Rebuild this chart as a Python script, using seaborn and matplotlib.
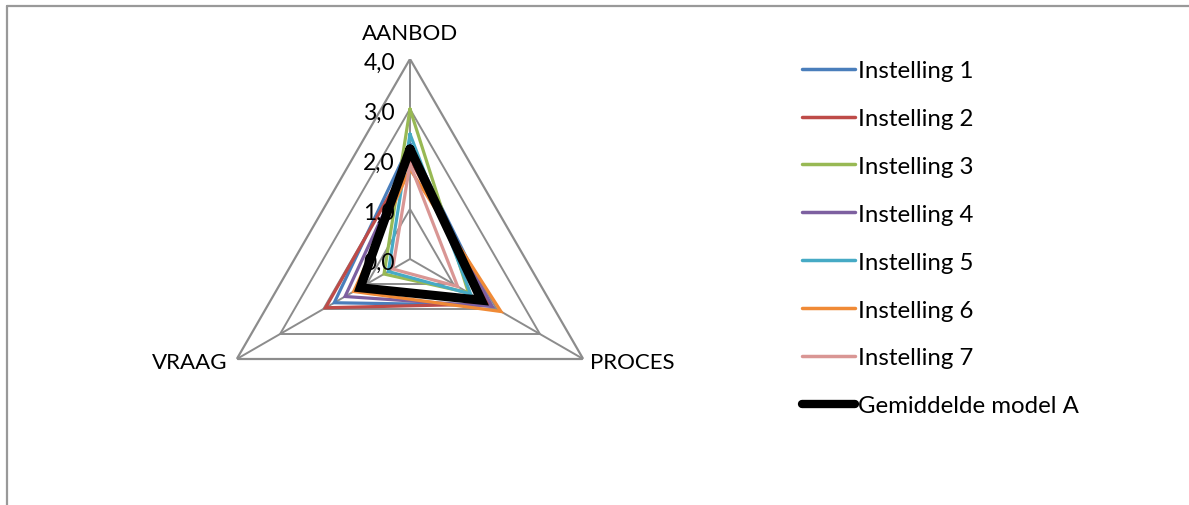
import numpy as np
import pandas as pd
import seaborn as sns
import matplotlib.pyplot as plt
from matplotlib.lines import Line2D

# data
axes_labels = ["AANBOD", "PROCES", "VRAAG"]
series = ["Instelling 1", "Instelling 2", "Instelling 3", "Instelling 4",
          "Instelling 5", "Instelling 6", "Instelling 7", "Gemiddelde model A"]
inst1 = [2.3, 1.85, 1.75]
inst2 = [2.0, 1.8, 1.95]
inst3 = [3.0, 1.35, 0.6]
inst4 = [2.05, 1.9, 1.5]
inst5 = [2.5, 1.4, 0.5]
inst6 = [1.8, 2.1, 1.3]
inst7 = [1.9, 1.1, 0.4]
gemiddelde = [2.2, 1.65, 1.15]
ticks = [0, 1, 2, 3, 4]
tick_labels = ["0,0", "1,0", "2,0", "3,0", "4,0"]

colors = ["#4A7EBB", "#BE4B48", "#98B954", "#7D60A0", "#46AAC5", "#F08A36", "#D99694", "#000000"]
widths = [2.3, 2.3, 2.3, 2.3, 2.3, 2.3, 2.3, 6.5]

sns.set_style("white")
plt.rcParams['font.family'] = ['Lato', 'DejaVu Sans']
plt.rcParams['text.color'] = 'black'

angles = np.linspace(0, 2 * np.pi, len(axes_labels), endpoint=False)
closed = np.append(angles, angles[0])

rows = []
for name, vals in zip(series, [inst1, inst2, inst3, inst4, inst5, inst6, inst7, gemiddelde]):
    v = list(vals) + [vals[0]]
    for t, r in zip(closed, v):
        rows.append({"series": name, "theta": t, "val": r})
df = pd.DataFrame(rows)

fig = plt.figure(figsize=(11.89, 5.06), dpi=100)
ax = fig.add_axes([210 / 1189, 46 / 506, 400 / 1189, 400 / 506], projection="polar")
ax.set_theta_offset(np.pi / 2)
ax.set_theta_direction(-1)

# polygon grid like Excel
for t in ticks[1:]:
    ax.plot(closed, [t] * len(closed), color="#8C8C8C", lw=1.4 if t < 4 else 1.6, zorder=1)
for a in angles:
    ax.plot([a, a], [0, 4], color="#8C8C8C", lw=1.4, zorder=1)

sns.lineplot(data=df, x="theta", y="val", hue="series", size="series",
             sizes=dict(zip(series, widths)), palette=dict(zip(series, colors)),
             sort=False, estimator=None, units="series", legend=False, ax=ax, zorder=3)
for ln in ax.lines[-len(series):]:
    ln.set_solid_joinstyle("miter")

ax.set_ylim(0, 4)
ax.grid(False)
ax.spines["polar"].set_visible(False)
ax.set_xticks([])
ax.set_yticks([])
ax.set_xlabel("")
ax.set_ylabel("")

# tick labels along the top spoke
for t, lab in zip(ticks, tick_labels):
    ax.annotate(lab, xy=(0, t), xytext=(-15, -3), textcoords="offset pixels",
                ha="right", va="center", fontsize=16.5, color="black")

ax.text(0, 4.53, axes_labels[0], ha="center", va="center", fontsize=16, color="black")
ax.annotate(axes_labels[1], xy=(angles[1], 4), xytext=(7, -3), textcoords="offset pixels",
            ha="left", va="center", fontsize=16, color="black")
ax.annotate(axes_labels[2], xy=(angles[2], 4), xytext=(-9, -3), textcoords="offset pixels",
            ha="right", va="center", fontsize=16, color="black")

handles = [Line2D([], [], color=c, lw=(2.5 if w < 5 else 6.0), solid_capstyle="round")
           for c, w in zip(colors, widths)]
fig.legend(handles, series, loc="upper left", bbox_to_anchor=(802 / 1189, 1 - 61 / 506),
           frameon=False, fontsize=17.3, handlelength=2.2, handletextpad=0.12,
           labelspacing=1.12, borderaxespad=0, borderpad=0, labelcolor="black")

# chart frame (top and left edge visible)
fig.add_artist(Line2D([7 / 1189, 7 / 1189], [0, 1 - 7 / 506], color="#999999", lw=1.6))
fig.add_artist(Line2D([7 / 1189, 1], [1 - 7 / 506, 1 - 7 / 506], color="#999999", lw=1.6))

fig.savefig("out.png", dpi=100)
